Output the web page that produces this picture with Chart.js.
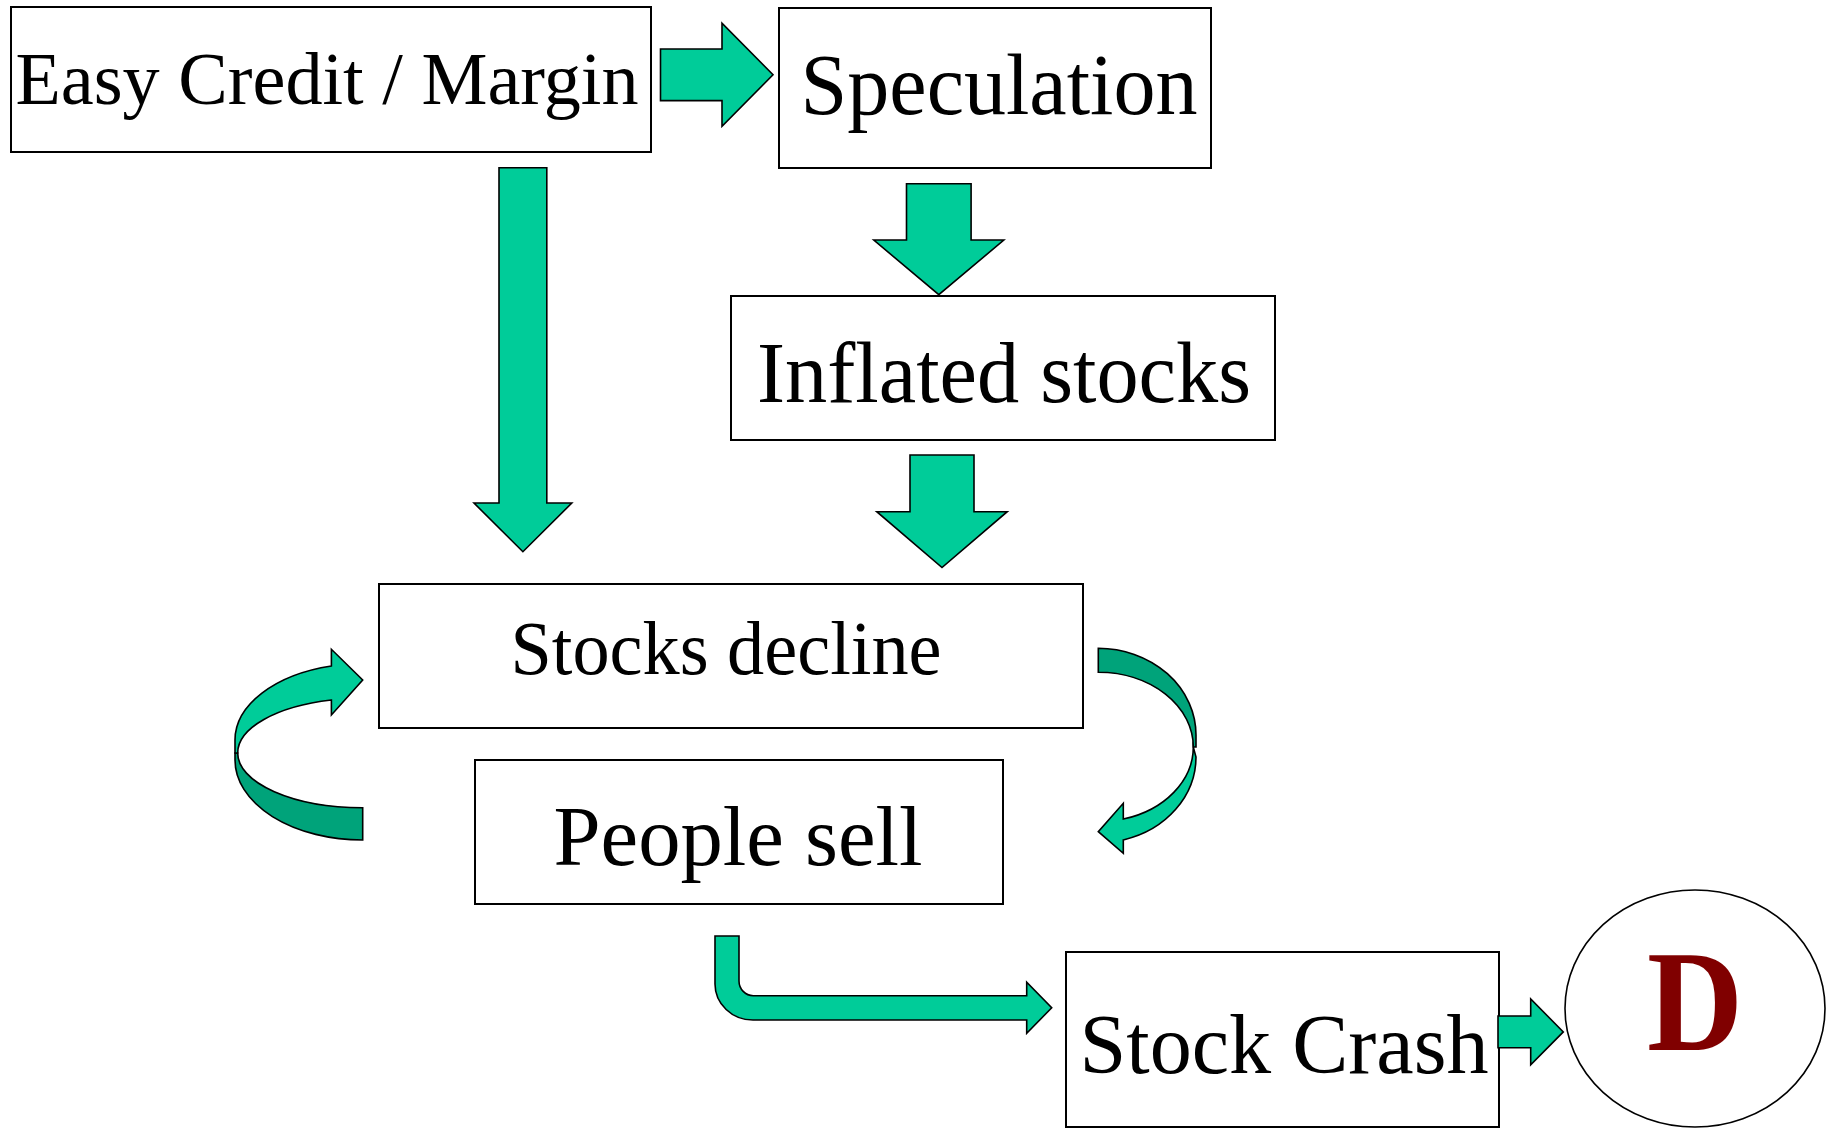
<!DOCTYPE html>
<html>
<head>
<meta charset="utf-8">
<script src="https://cdn.jsdelivr.net/npm/chart.js@4/dist/chart.umd.min.js"></script>
<style>
  html, body { margin: 0; padding: 0; background: #ffffff; overflow: hidden; }
  #wrap { width: 1827px; height: 1129px; }
</style>
</head>
<body>
<div id="wrap"><canvas id="c" width="1827" height="1129"></canvas></div>
<script>
// ---- content (flowchart nodes) ----
const nodeLabels = ['Easy Credit / Margin', 'Speculation', 'Inflated stocks', 'Stocks decline', 'People sell', 'Stock Crash'];
const outcomeLabel = 'D';

// ---- geometry (diagram coordinate space 0..1827 x 0..1129) ----
const nodeLeft   = [11, 779, 731, 379, 475, 1066];
const nodeRight  = [651, 1211, 1275, 1083, 1003, 1499];
const nodeTop    = [7, 8, 296, 584, 760, 952];
const nodeBottom = [152, 168, 440, 728, 904, 1127];
const labelX        = [327, 999, 1004, 726, 738, 1284];
const labelBaseline = [104, 114, 402, 674, 865, 1073];
const labelSize     = [75, 86, 86, 77, 84, 85];
const labelWidth    = [623, 397, 494, 431, 369, 409];

const circleCenter = [1695, 1008.5];
const circleRadius = [130, 118.5];

// straight block arrows: [x0, x1(head base), x2(tip), yCenter, shaftHalf, headHalf]
const rightArrows = [
  [660.5, 722, 773, 74.8, 25.8, 51.5],
  [1498, 1530.7, 1563.3, 1031.9, 15.9, 33]
];
// [xCenter, y0, y1(head base), y2(tip), shaftHalf, headHalf]
const downArrows = [
  [522.9, 167.7, 503, 551.7, 23.9, 48.9],
  [938.8, 183.7, 240, 294.7, 32.3, 65],
  [942, 455, 511.7, 567.5, 32, 65.2]
];

const LIGHT = '#00CC99';
const DARK = '#00A37A';
const FONT = '"Liberation Serif", "Times New Roman", Times, serif';

const flowPlugin = {
  id: 'flow',
  beforeDraw(chart) {
    const ctx = chart.ctx;
    ctx.save();
    ctx.fillStyle = '#ffffff';
    ctx.fillRect(0, 0, chart.width, chart.height);
    ctx.restore();
  },
  afterDatasetsDraw(chart) {
    const ctx = chart.ctx;
    const xs = chart.scales.x, ys = chart.scales.y;
    const X = v => xs.getPixelForValue(v);
    const Y = v => ys.getPixelForValue(v);
    const RX = r => Math.abs(xs.getPixelForValue(r) - xs.getPixelForValue(0));
    const RY = r => Math.abs(ys.getPixelForValue(r) - ys.getPixelForValue(0));

    function poly(pts, fill) {
      ctx.beginPath();
      pts.forEach((p, i) => i ? ctx.lineTo(X(p[0]), Y(p[1])) : ctx.moveTo(X(p[0]), Y(p[1])));
      ctx.closePath();
      ctx.fillStyle = fill; ctx.fill();
      ctx.lineWidth = 1.6; ctx.strokeStyle = '#000'; ctx.lineJoin = 'miter'; ctx.stroke();
    }
    function ell(cx, cy, rx, ry, a0, a1, ccw) {
      ctx.ellipse(X(cx), Y(cy), RX(rx), RY(ry), 0, a0, a1, ccw);
    }
    function finish(fill) {
      ctx.closePath();
      ctx.fillStyle = fill; ctx.fill();
      ctx.lineWidth = 1.6; ctx.strokeStyle = '#000'; ctx.lineJoin = 'miter'; ctx.stroke();
    }
    function fitText(txt, cx, base, width) {
      const w = ctx.measureText(txt).width;
      const s = Math.min(1.1, RX(width) / w);
      ctx.save();
      ctx.translate(X(cx), Y(base));
      ctx.scale(s, 1);
      ctx.textAlign = 'center';
      ctx.textBaseline = 'alphabetic';
      ctx.fillText(txt, 0, 0);
      ctx.restore();
    }
    const L = (x, y) => ctx.lineTo(X(x), Y(y));

    ctx.save();
    // boxes
    for (let i = 0; i < nodeLabels.length; i++) {
      ctx.lineWidth = 2;
      ctx.strokeStyle = '#000';
      ctx.fillStyle = '#fff';
      const x0 = X(nodeLeft[i]), x1 = X(nodeRight[i]), y0 = Y(nodeTop[i]), y1 = Y(nodeBottom[i]);
      ctx.fillRect(x0, y0, x1 - x0, y1 - y0);
      ctx.strokeRect(x0, y0, x1 - x0, y1 - y0);
      ctx.fillStyle = '#000';
      ctx.font = labelSize[i] + 'px ' + FONT;
      fitText(nodeLabels[i], labelX[i], labelBaseline[i], labelWidth[i]);
    }

    // circle with D
    ctx.beginPath();
    ell(circleCenter[0], circleCenter[1], circleRadius[0], circleRadius[1], 0, Math.PI * 2, false);
    ctx.fillStyle = '#fff'; ctx.fill();
    ctx.lineWidth = 1.6; ctx.strokeStyle = '#000'; ctx.stroke();
    ctx.fillStyle = '#800000';
    ctx.font = 'bold 144px ' + FONT;
    fitText(outcomeLabel, 1695, 1050, 96);

    // straight arrows
    rightArrows.forEach(a => {
      const [x0, x1, x2, yc, sh, hh] = a;
      poly([[x0, yc - sh], [x1, yc - sh], [x1, yc - hh], [x2, yc], [x1, yc + hh], [x1, yc + sh], [x0, yc + sh]], LIGHT);
    });
    downArrows.forEach(a => {
      const [xc, y0, y1, y2, sh, hh] = a;
      poly([[xc - sh, y0], [xc + sh, y0], [xc + sh, y1], [xc + hh, y1], [xc, y2], [xc - hh, y1], [xc - sh, y1]], LIGHT);
    });

    // bent arrow: People sell -> Stock Crash
    ctx.beginPath();
    ctx.moveTo(X(715), Y(936));
    L(739, 936);
    L(739, 981);
    ell(753.3, 981, 14.3, 14.7, Math.PI, Math.PI / 2, true);
    L(1026.7, 995.7);
    L(1026.7, 982.3);
    L(1051.7, 1007.7);
    L(1026.7, 1033.3);
    L(1026.7, 1020);
    L(753, 1020);
    ell(753, 984, 38, 36, Math.PI / 2, Math.PI, false);
    finish(LIGHT);

    // left curved arrow (loops up into Stocks decline)
    {
      const cx = 362.7;
      ctx.beginPath();
      ell(cx, 760, 127.7, 80, Math.PI, Math.PI / 2, true);
      L(cx, 807.7);
      ell(cx, 753, 125, 54.7, Math.PI / 2, Math.PI, false);
      L(235, 753);
      finish(DARK);
      const tIn = 2 * Math.PI - Math.acos((331.4 - cx) / 125);
      const tOut = 2 * Math.PI - Math.acos((331.4 - cx) / 127.7);
      ctx.beginPath();
      ell(cx, 753, 125, 54.7, Math.PI, tIn, false);
      L(331.4, 715);
      L(362.7, 680);
      L(331.4, 649.3);
      L(331.4, 740 + 76.4 * Math.sin(tOut));
      ell(cx, 740, 127.7, 76.4, tOut, Math.PI, true);
      L(235, 753);
      finish(LIGHT);
    }

    // right curved arrow (from Stocks decline down to People sell)
    {
      const cx = 1098.3;
      ctx.beginPath();
      ell(cx, 735, 97.7, 86.7, -Math.PI / 2, 0, false);
      L(cx + 97.7, 747);
      ell(cx, 747, 95, 74.7, 0, -Math.PI / 2, true);
      finish(DARK);
      const tIn = Math.acos((1123.3 - cx) / 95);
      const tOut = Math.acos((1123.3 - cx) / 97.7);
      ctx.beginPath();
      ell(cx, 747, 95, 74.7, 0, tIn, false);
      L(1123.3, 803.3);
      L(1098.3, 831.7);
      L(1123.3, 853.3);
      L(1123.3, 757 + 85.8 * Math.sin(tOut));
      ell(cx, 757, 97.7, 85.8, tOut, 0, true);
      L(cx + 95, 747);
      finish(LIGHT);
    }
    ctx.restore();
  }
};

const centers = nodeLabels.map((n, i) => ({ x: (nodeLeft[i] + nodeRight[i]) / 2, y: (nodeTop[i] + nodeBottom[i]) / 2 }));

new Chart(document.getElementById('c'), {
  type: 'scatter',
  data: {
    datasets: [{
      label: 'nodes',
      data: centers,
      pointRadius: 0,
      showLine: false
    }]
  },
  options: {
    responsive: false,
    devicePixelRatio: 1,
    animation: false,
    layout: { padding: 0 },
    plugins: { legend: { display: false }, tooltip: { enabled: false } },
    scales: {
      x: { type: 'linear', min: 0, max: 1827, display: false },
      y: { type: 'linear', min: 0, max: 1129, reverse: true, display: false }
    }
  },
  plugins: [flowPlugin]
});
</script>
</body>
</html>
